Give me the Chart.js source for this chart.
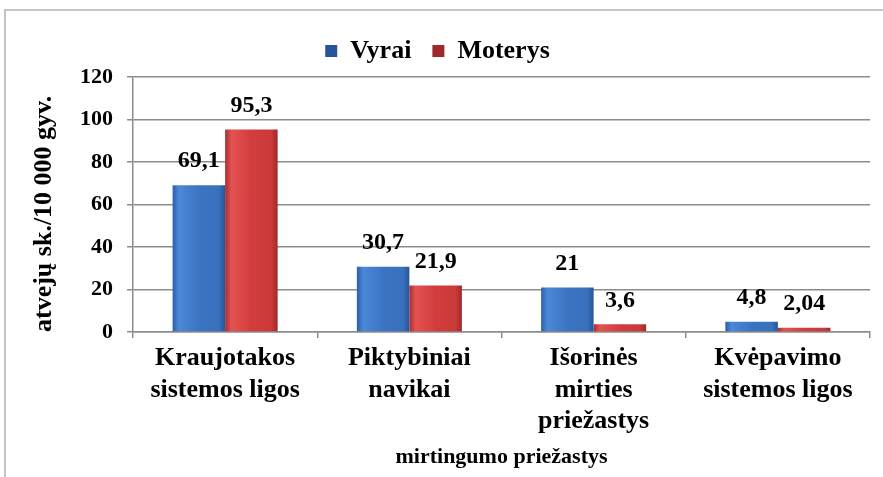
<!DOCTYPE html>
<html>
<head>
<meta charset="utf-8">
<script src="https://cdn.jsdelivr.net/npm/chart.js@4.4.1/dist/chart.umd.min.js"></script>
<style>
  html, body { margin: 0; padding: 0; background: #fff; overflow: hidden; }
  .frame { position: absolute; left: 4px; top: 9px; width: 920px; height: 520px; border: 2px solid #c4c4c4; }
  .wrap { position: absolute; left: 0; top: 0; width: 883px; height: 477px; }
</style>
</head>
<body>
<div class="frame"></div>
<div class="wrap"><canvas id="c" width="883" height="477"></canvas></div>
<script>
const categories = [
  ['Kraujotakos', 'sistemos ligos'],
  ['Piktybiniai', 'navikai'],
  ['Išorinės', 'mirties', 'priežastys'],
  ['Kvėpavimo', 'sistemos ligos'],
];
const vyrai = [69.1, 30.7, 21, 4.8];
const moterys = [95.3, 21.9, 3.6, 2.04];
const yTicks = [0, 20, 40, 60, 80, 100, 120];

const serif = "'Liberation Serif', 'Times New Roman', serif";
const fmt = v => String(v).replace('.', ',');
const catPct = 0.57;

const shades = {
  blue: ['#2c5ea8', '#4b88d8', '#3c74c3', '#3870bd', '#28559a'],
  red:  ['#ab2c2c', '#e45252', '#d23c3c', '#cb3939', '#a12828'],
};

// horizontal shading so the bars look a bit rounded, like the original
function barFill(name) {
  return (c) => {
    const s = shades[name];
    if (c.type !== 'data') return s[2];
    const xs = c.chart.scales.x;
    if (!xs || !xs.width) return s[2];
    const half = xs.width / categories.length * catPct / 2;
    const mid = xs.getPixelForValue(c.dataIndex);
    const x0 = c.datasetIndex === 0 ? mid - half : mid;
    const g = c.chart.ctx.createLinearGradient(x0, 0, x0 + half, 0);
    g.addColorStop(0, s[0]);
    g.addColorStop(0.12, s[1]);
    g.addColorStop(0.5, s[2]);
    g.addColorStop(0.88, s[3]);
    g.addColorStop(1, s[4]);
    return g;
  };
}

// value labels above each bar
const valueLabels = {
  id: 'valueLabels',
  afterDatasetsDraw(chart) {
    const ctx = chart.ctx;
    ctx.save();
    ctx.font = `bold 24px ${serif}`;
    ctx.fillStyle = '#000';
    ctx.textAlign = 'center';
    ctx.textBaseline = 'middle';
    chart.data.datasets.forEach((ds, i) => {
      chart.getDatasetMeta(i).data.forEach((bar, j) => {
        ctx.fillText(fmt(ds.data[j]), bar.x, bar.y - 24);
      });
    });
    ctx.restore();
  }
};

// a bit more room under the legend than Chart.js gives
const legendGap = {
  id: 'legendGap',
  beforeLayout(chart) {
    const lg = chart.legend;
    if (lg && !lg._gapPatched) {
      const fit = lg.fit;
      lg.fit = function () { fit.call(this); this.height += 3; };
      lg._gapPatched = true;
    }
  }
};

new Chart(document.getElementById('c'), {
  type: 'bar',
  data: {
    labels: categories,
    datasets: [
      { label: 'Vyrai', data: vyrai, backgroundColor: barFill('blue'), borderColor: '#2d5ba0', borderWidth: 0 },
      { label: 'Moterys', data: moterys, backgroundColor: barFill('red'), borderColor: '#a82d2d', borderWidth: 0 },
    ],
  },
  options: {
    responsive: false,
    animation: false,
    layout: { padding: { left: 5, right: 13, top: 17, bottom: 0 } },
    categoryPercentage: catPct,
    barPercentage: 1.0,
    plugins: {
      legend: {
        position: 'top',
        labels: {
          color: '#000',
          font: { family: serif, size: 26, weight: 'bold' },
          boxWidth: 12,
          boxHeight: 12,
          padding: 21,
        },
      },
      tooltip: { enabled: false },
    },
    scales: {
      x: {
        grid: { drawOnChartArea: false, drawTicks: true, tickLength: 6, color: '#8c8c8c', lineWidth: 1.5 },
        border: { color: '#8c8c8c', width: 1.5 },
        ticks: {
          color: '#000',
          padding: 5,
          maxRotation: 0,
          autoSkip: false,
          font: { family: serif, size: 26, weight: 'bold', lineHeight: 1.2 },
        },
        title: {
          display: true,
          text: 'mirtingumo priežastys',
          color: '#000',
          font: { family: serif, size: 22, weight: 'bold' },
          padding: { top: 0, bottom: 6 },
        },
        afterFit: s => { s.height = 145; },
      },
      y: {
        min: 0,
        max: 120,
        afterBuildTicks: s => { s.ticks = yTicks.map(v => ({ value: v })); },
        grid: { color: '#8c8c8c', lineWidth: 1.5, tickLength: 6 },
        border: { color: '#8c8c8c', width: 1.5 },
        ticks: {
          color: '#000',
          padding: 14,
          font: { family: serif, size: 22, weight: 'bold' },
        },
        title: {
          display: true,
          text: 'atvejų sk./10 000 gyv.',
          align: 'start',
          color: '#000',
          font: { family: serif, size: 26, weight: 'bold' },
          padding: { top: 24, bottom: 0 },
        },
        afterFit: s => { s.width = 128; },
      },
    },
  },
  plugins: [valueLabels, legendGap],
});
</script>
</body>
</html>
